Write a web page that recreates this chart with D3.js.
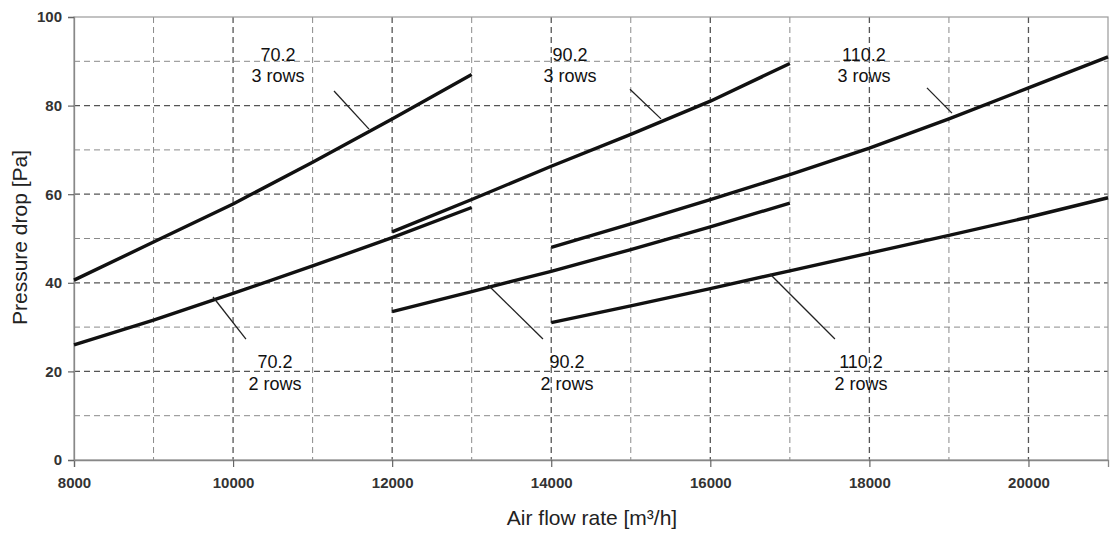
<!DOCTYPE html>
<html>
<head>
<meta charset="utf-8">
<script src="https://cdn.jsdelivr.net/npm/d3@7"></script>
<style>
  html, body { margin: 0; padding: 0; background: #fff; }
  svg { display: block; font-family: "Liberation Sans", Arial, sans-serif; }
</style>
</head>
<body>
<svg id="chart" width="1110" height="533"></svg>
<script>
// Air flow rate [m³/h] sample points per coil
const flow70 = [8000, 9000, 10000, 11000, 12000, 13000];
const flow90 = [12000, 13000, 14000, 15000, 16000, 17000];
const flow110 = [14000, 15000, 16000, 17000, 18000, 19000, 20000, 21000];

// Pressure drop [Pa]
const dp70_3 = [40.6, 49.2, 57.8, 67.2, 77.0, 87.0];
const dp70_2 = [26.0, 31.6, 37.6, 43.8, 50.2, 57.0];
const dp90_3 = [51.5, 58.8, 66.3, 73.5, 81.0, 89.5];
const dp90_2 = [33.5, 38.0, 42.6, 47.5, 52.6, 58.0];
const dp110_3 = [48.0, 53.3, 58.8, 64.4, 70.4, 77.0, 84.0, 91.0];
const dp110_2 = [31.0, 34.8, 38.7, 42.7, 46.7, 50.7, 54.8, 59.2];

// Curve labels: name, row count, label position, leader from/to (data units)
const labelNames = ["70.2", "70.2", "90.2", "90.2", "110.2", "110.2"];
const labelRows = ["3 rows", "2 rows", "3 rows", "2 rows", "3 rows", "2 rows"];
const labelFlow = [10565, 10527, 14236, 14198, 17932, 17895];
const labelDp = [91.6, 22.1, 91.6, 22.1, 91.6, 22.1];
const leaderFrom = [[11269, 83.3], [9748, 36.8], [14990, 83.7], [13205, 39.5], [18724, 84.0], [16750, 42.0]];
const leaderTo = [[11709, 74.7], [10162, 27.3], [15380, 77.0], [13896, 27.3], [19038, 78.3], [17567, 27.3]];

const xTicks = [8000, 10000, 12000, 14000, 16000, 18000, 20000];
const yTicks = [0, 20, 40, 60, 80, 100];

const series = [
  { flow: flow70, dp: dp70_3 },
  { flow: flow70, dp: dp70_2 },
  { flow: flow90, dp: dp90_3 },
  { flow: flow90, dp: dp90_2 },
  { flow: flow110, dp: dp110_3 },
  { flow: flow110, dp: dp110_2 }
];

const svg = d3.select("#chart");
const plotLeft = 74, plotRight = 1108, plotTop = 17, plotBottom = 460;

const x = d3.scaleLinear().domain([8000, 21000]).range([plotLeft, plotRight]);
const y = d3.scaleLinear().domain([0, 100]).range([plotBottom, plotTop]);

// Grid
const grid = svg.append("g");
d3.range(9000, 21000, 1000).forEach(v => {
  grid.append("line")
    .attr("x1", x(v)).attr("x2", x(v)).attr("y1", plotTop).attr("y2", plotBottom)
    .attr("stroke", v % 2000 === 0 ? "#555" : "#8a8a8a")
    .attr("stroke-width", v % 2000 === 0 ? 1.3 : 1)
    .attr("stroke-dasharray", "6,4");
});
d3.range(10, 100, 10).forEach(v => {
  grid.append("line")
    .attr("x1", plotLeft).attr("x2", plotRight).attr("y1", y(v)).attr("y2", y(v))
    .attr("stroke", v % 20 === 0 ? "#555" : "#8a8a8a")
    .attr("stroke-width", v % 20 === 0 ? 1.3 : 1)
    .attr("stroke-dasharray", "6,4");
});

// Frame
svg.append("rect")
  .attr("x", plotLeft).attr("y", plotTop)
  .attr("width", plotRight - plotLeft).attr("height", plotBottom - plotTop)
  .attr("fill", "none").attr("stroke", "#9a9a9a").attr("stroke-width", 1.2);

// Axes
const xAxis = svg.append("g").attr("transform", `translate(0,${plotBottom})`)
  .call(d3.axisBottom(x).tickValues(xTicks).tickSize(7).tickPadding(10).tickFormat(d3.format("d")));
const yAxis = svg.append("g").attr("transform", `translate(${plotLeft},0)`)
  .call(d3.axisLeft(y).tickValues(yTicks).tickSize(6).tickPadding(6).tickFormat(d3.format("d")));
[xAxis, yAxis].forEach(a => {
  a.select(".domain").attr("stroke", "#888").attr("stroke-width", 1.3);
  a.selectAll(".tick line").attr("stroke", "#666").attr("stroke-width", 1.2);
  a.selectAll(".tick text")
    .attr("fill", "#333")
    .attr("font-size", 15)
    .attr("font-weight", "bold")
    .attr("font-family", "'Liberation Sans', Arial, sans-serif");
});

// Curves
const line = d3.line().x(d => x(d[0])).y(d => y(d[1]));
svg.append("g").selectAll("path")
  .data(series)
  .join("path")
  .attr("d", s => line(s.flow.map((f, i) => [f, s.dp[i]])))
  .attr("fill", "none")
  .attr("stroke", "#111")
  .attr("stroke-width", 3.4)
  .attr("stroke-linecap", "butt");

// Leaders
svg.append("g").selectAll("line")
  .data(leaderFrom.map((p, i) => [p, leaderTo[i]]))
  .join("line")
  .attr("x1", d => x(d[0][0])).attr("y1", d => y(d[0][1]))
  .attr("x2", d => x(d[1][0])).attr("y2", d => y(d[1][1]))
  .attr("stroke", "#222").attr("stroke-width", 1.3);

// Labels
const labels = svg.append("g")
  .attr("font-size", 18)
  .attr("fill", "#111")
  .attr("text-anchor", "middle");
labelNames.forEach((name, i) => {
  const t = labels.append("text")
    .attr("x", x(labelFlow[i]))
    .attr("y", y(labelDp[i]));
  t.append("tspan").attr("x", x(labelFlow[i])).attr("dy", "0.35em").text(name);
  t.append("tspan").attr("x", x(labelFlow[i])).attr("dy", "1.22em").text(labelRows[i]);
});

// Axis titles
svg.append("text")
  .attr("x", (plotLeft + plotRight) / 2 + 1)
  .attr("y", 524.5)
  .attr("text-anchor", "middle")
  .attr("font-size", 21)
  .attr("fill", "#222")
  .text("Air flow rate [m³/h]");

svg.append("text")
  .attr("transform", `translate(27,${(plotTop + plotBottom) / 2 - 1}) rotate(-90)`)
  .attr("text-anchor", "middle")
  .attr("font-size", 21)
  .attr("fill", "#222")
  .text("Pressure drop [Pa]");
</script>
</body>
</html>
